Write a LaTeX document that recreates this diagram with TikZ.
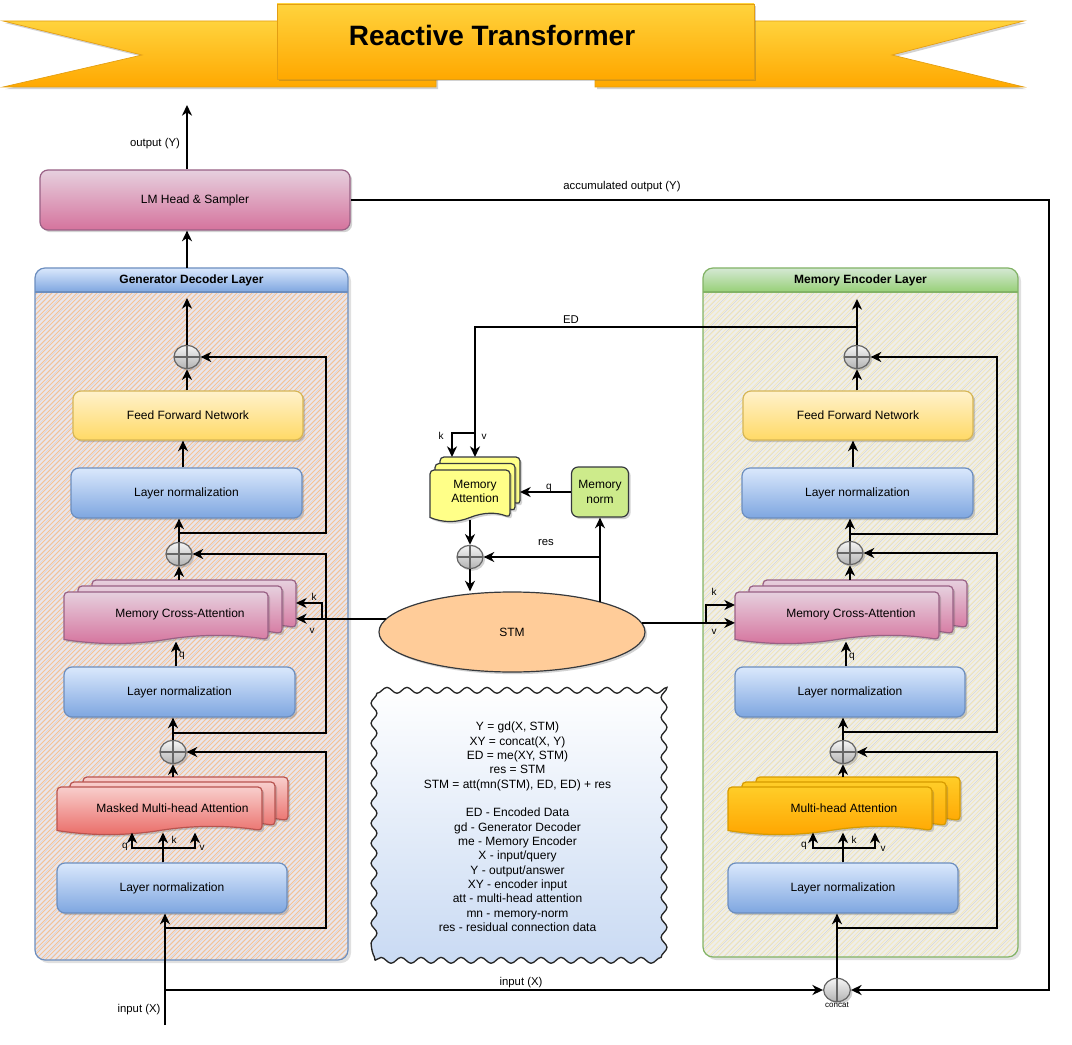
\documentclass[tikz,border=0pt]{standalone}
\usepackage{fontspec}
\setmainfont{Liberation Sans}
\usetikzlibrary{arrows.meta,shapes.geometric,shadows,decorations.pathmorphing,calc}

\definecolor{lnT}{HTML}{DAE8FC}\definecolor{lnB}{HTML}{7EA6E0}\definecolor{lnD}{HTML}{6C8EBF}
\definecolor{ffT}{HTML}{FFF2CC}\definecolor{ffB}{HTML}{FFD966}\definecolor{ffD}{HTML}{D6B656}
\definecolor{pkT}{HTML}{E6D0DE}\definecolor{pkB}{HTML}{D5739D}\definecolor{pkD}{HTML}{996185}
\definecolor{rdT}{HTML}{F8CECC}\definecolor{rdB}{HTML}{EA6B66}\definecolor{rdD}{HTML}{B85450}
\definecolor{orT}{HTML}{FFCD28}\definecolor{orB}{HTML}{FFA500}\definecolor{orD}{HTML}{D79B00}
\definecolor{maF}{HTML}{FFFF88}\definecolor{dkD}{HTML}{36393D}
\definecolor{mnF}{HTML}{CDEB8B}\definecolor{stF}{HTML}{FFCC99}
\definecolor{adT}{HTML}{F5F5F5}\definecolor{adB}{HTML}{B3B3B3}\definecolor{adD}{HTML}{666666}
\definecolor{gdBase}{HTML}{E9E6EC}\definecolor{gdHatch}{HTML}{F6C394}\definecolor{gdHatchB}{HTML}{D9D4DC}
\definecolor{meBase}{HTML}{EEEEEC}\definecolor{meHatch}{HTML}{F4E9BE}\definecolor{meHatchB}{HTML}{D6D6D6}
\definecolor{gdhT}{HTML}{DAE8FC}\definecolor{gdhB}{HTML}{7EA6E0}
\definecolor{mehT}{HTML}{D5E8D4}\definecolor{mehB}{HTML}{97D077}\definecolor{meD}{HTML}{82B366}
\definecolor{bnT}{HTML}{FFD33D}\definecolor{bnB}{HTML}{FFA800}\definecolor{bnD}{HTML}{E39E12}
\definecolor{lgB}{HTML}{C9DAF3}

\newcommand{\boxfont}{\fontsize{9}{10.75}\selectfont}

\newcommand{\drawdoc}[5]{%
  \pgfmathsetmacro{\mddX}{#1}\pgfmathsetmacro{\mddY}{#2}%
  \pgfmathsetmacro{\mddW}{#3}\pgfmathsetmacro{\mddH}{#4}%
  \pgfmathsetmacro{\mdyb}{\mddY+\mddH-4.5}%
  \pgfmathsetmacro{\mdyu}{\mdyb-5.4}\pgfmathsetmacro{\mdyl}{\mdyb+5.4}%
  \path[#5] (\mddX,\mdyb) [rounded corners=3pt] -- (\mddX,\mddY) -- (\mddX+\mddW,\mddY) -- (\mddX+\mddW,\mdyb) [sharp corners]
   .. controls (\mddX+5*\mddW/6,\mdyu) and (\mddX+2*\mddW/3,\mdyu) .. (\mddX+\mddW/2,\mdyb)
   .. controls (\mddX+\mddW/3,\mdyl) and (\mddX+\mddW/6,\mdyl) .. (\mddX,\mdyb) -- cycle;%
}
\newcommand{\multidoc}[9]{%
  \drawdoc{#2+2*(#6)}{#3+2*(#7)}{#4}{#5}{#8}%
  \drawdoc{#2+#6}{#3+#7}{#4}{#5}{#8}%
  \drawdoc{#2}{#3}{#4}{#5}{#8}%
  \pgfmathsetmacro{\mdL}{#2}%
  \pgfmathsetmacro{\mdR}{#2+#4+2*(#6)}%
  \pgfmathsetmacro{\mdT}{#3+2*(#7)}%
  \pgfmathsetmacro{\mdB}{#3+#5-2.5}%
  \pgfmathsetmacro{\mdWpt}{(\mdR-\mdL)*0.75}%
  \pgfmathsetmacro{\mdHpt}{(\mdB-\mdT)*0.75}%
  \node[inner sep=0pt, outer sep=0pt, minimum width=\mdWpt pt, minimum height=\mdHpt pt] (#1) at ({(\mdL+\mdR)/2},{(\mdT+\mdB)/2}) {};%
  \node[inner sep=0pt, align=center, font=\boxfont] (#1-text) at ({(\mdL+\mdR)/2},{(\mdT+\mdB)/2+3.5}) {#9};%
}

\tikzset{
  shad/.style={drop shadow={shadow xshift=1.6pt,shadow yshift=-1.6pt,opacity=0.25,fill=black!70}},
  arr/.style={line width=1.5pt, -{Stealth[length=8pt,width=7.5pt,inset=2.5pt]}},
  arrboth/.style={line width=1.5pt, {Stealth[length=8pt,width=7.5pt,inset=2.5pt]}-{Stealth[length=8pt,width=7.5pt,inset=2.5pt]}},
  sz/.style 2 args={minimum width=#1*0.75pt, minimum height=#2*0.75pt},
  rbox/.style={draw, rounded corners=6pt, line width=0.9pt, inner sep=0pt, font=\boxfont, align=center, shad},
  lnbox/.style={rbox, top color=lnT, bottom color=lnB, draw=lnD},
  ffnbox/.style={rbox, top color=ffT, bottom color=ffB, draw=ffD},
  lmbox/.style={rbox, top color=pkT, bottom color=pkB, draw=pkD},
  normbox/.style={rbox, rounded corners=5pt, fill=mnF, draw=dkD},
  mcadoc/.style={draw=pkD, line width=0.9pt, top color=pkT, bottom color=pkB, shad},
  mhadoc/.style={draw=rdD, line width=0.9pt, top color=rdT, bottom color=rdB, shad},
  mhadoctwo/.style={draw=orD, line width=0.9pt, top color=orT, bottom color=orB, shad},
  madoc/.style={draw=dkD, line width=0.9pt, fill=maF, shad},
  addc/.style={ellipse, draw=adD, line width=0.9pt, top color=adT, bottom color=adB,
     minimum width=19.5pt, minimum height=17.5pt, inner sep=0pt, shad,
     path picture={\draw[adD, line width=0.9pt] (path picture bounding box.north) -- (path picture bounding box.south)
        (path picture bounding box.west) -- (path picture bounding box.east);}},
  concatc/.style={ellipse, draw=adD, line width=0.9pt, top color=adT, bottom color=adB,
     minimum width=20pt, minimum height=17.5pt, inner sep=0pt, shad,
     path picture={\draw[adD, line width=0.9pt] (path picture bounding box.north) -- (path picture bounding box.south);}},
  stmnode/.style={ellipse, draw=dkD, line width=0.9pt, fill=stF, minimum width=199.5pt, minimum height=60pt, inner sep=0pt, font=\boxfont, shad},
  legendbox/.style={draw=black!85, line width=1pt, top color=white, bottom color=lgB,
     decorate, decoration={snake, amplitude=2.2pt, segment length=15pt},
     minimum width=214pt, minimum height=200pt, inner sep=0pt, align=center, font=\boxfont},
  lbl/.style={font=\fontsize{8.5}{10}\selectfont, inner sep=1pt},
  qkv/.style={font=\fontsize{7.5}{9}\selectfont, inner sep=0.5pt},
  banner/.style={top color=bnT, bottom color=bnB, draw=bnD, line width=0.5pt, shad},
}

\begin{document}
\begin{tikzpicture}[x=0.75pt,y=-0.75pt]
\useasboundingbox (0,0) rectangle (1072,1045);

% ---------------- title banner ----------------
\shade[banner] (3,21) -- (436,21) -- (436,87) -- (3,87) -- (142,55) -- cycle;
\shade[banner] (1024,21) -- (595,21) -- (595,87) -- (1024,87) -- (892,55) -- cycle;
\shade[banner] (277,4) rectangle (754,79);
\node[font=\bfseries\fontsize{21}{25}\selectfont] (title) at (492,35) {Reactive Transformer};

% ---------------- Generator Decoder container ----------------
\fill[black, opacity=0.12, rounded corners=7.5pt] (38,271) rectangle (351,963);
\begin{scope}
  \clip[rounded corners=7.5pt] (35,268) rectangle (348,960);
  \fill[gdBase] (35,268) rectangle (348,960);
  \foreach \c in {302,309,...,1315} {\draw[gdHatchB, line width=0.5pt] (\c-960,960) -- (\c-268,268);}
  \foreach \c in {300,305,...,1315} {\draw[gdHatch, line width=0.55pt] (\c-960,960) -- (\c-268,268);}
  \shade[top color=gdhT, bottom color=gdhB] (35,268) rectangle (348,292);
\end{scope}
\draw[lnD, line width=0.9pt, rounded corners=7.5pt] (35,268) rectangle (348,960);
\draw[lnD, line width=0.9pt] (35,292) -- (348,292);
\node[font=\bfseries\boxfont] (gdtitle) at (191.5,280) {Generator Decoder Layer};

% ---------------- Memory Encoder container ----------------
\fill[black, opacity=0.12, rounded corners=7.5pt] (706,271) rectangle (1021,960);
\begin{scope}
  \clip[rounded corners=7.5pt] (703,268) rectangle (1018,957);
  \fill[meBase] (703,268) rectangle (1018,957);
  \foreach \c in {967,974,...,1980} {\draw[meHatchB, line width=0.5pt] (\c-957,957) -- (\c-268,268);}
  \foreach \c in {965,970,...,1980} {\draw[meHatch, line width=0.6pt] (\c-957,957) -- (\c-268,268);}
  \shade[top color=mehT, bottom color=mehB] (703,268) rectangle (1018,292);
\end{scope}
\draw[meD, line width=0.9pt, rounded corners=7.5pt] (703,268) rectangle (1018,957);
\draw[meD, line width=0.9pt] (703,292) -- (1018,292);
\node[font=\bfseries\boxfont] (metitle) at (860.5,280) {Memory Encoder Layer};

% ---------------- left column nodes ----------------
\node[lmbox, sz={310}{60}] (lmhead) at (195,200) {LM Head \& Sampler};
\node[ffnbox, sz={230}{49}] (ffn1) at (188,415.5) {Feed Forward Network};
\node[lnbox, sz={231}{50}] (ln1) at (186.5,493) {Layer normalization};
\node[lnbox, sz={231}{50}] (ln2) at (179.5,692) {Layer normalization};
\node[lnbox, sz={230}{50}] (ln3) at (172,888) {Layer normalization};
\node[addc] (add1) at (187,357) {};
\node[addc] (add2) at (179,554) {};
\node[addc] (add3) at (173,752) {};
\multidoc{mca1}{64}{592}{204}{52}{14}{-6}{mcadoc}{Memory Cross-Attention}
\multidoc{mha1}{57}{787}{205}{48}{13}{-5}{mhadoc}{Masked Multi-head Attention}

% ---------------- right column nodes ----------------
\node[ffnbox, sz={230}{49}] (ffn2) at (858,415.5) {Feed Forward Network};
\node[lnbox, sz={231}{50}] (ln4) at (857.5,493) {Layer normalization};
\node[lnbox, sz={230}{50}] (ln5) at (850,692) {Layer normalization};
\node[lnbox, sz={230}{50}] (ln6) at (843,888) {Layer normalization};
\node[addc] (add4) at (857,357) {};
\node[addc] (add5) at (850,553) {};
\node[addc] (add6) at (843,752) {};
\multidoc{mca2}{735}{592}{204}{52}{14}{-6}{mcadoc}{Memory Cross-Attention}
\multidoc{mha2}{728}{787}{204}{48}{14}{-5}{mhadoctwo}{Multi-head Attention}

% ---------------- centre nodes ----------------
\multidoc{memattn}{430}{470}{80}{52}{5}{-6.5}{madoc}{Memory\\Attention}
\node[normbox, sz={57}{50}] (memnorm) at (600,492) {Memory\\norm};
\node[addc] (add7) at (470,557) {};
\node[stmnode] (stm) at (512,632) {STM};
\node[legendbox] (leg) at (517.5,827) {Y = gd(X, STM)\\XY = concat(X, Y)\\ED = me(XY, STM)\\res = STM\\STM = att(mn(STM), ED, ED) + res\\[10.75pt]ED - Encoded Data\\gd - Generator Decoder\\me - Memory Encoder\\X - input/query\\Y - output/answer\\XY - encoder input\\att - multi-head attention\\mn - memory-norm\\res - residual connection data};
\node[concatc] (concat) at (837,990) {};
\node[font=\fontsize{6}{7}\selectfont, inner sep=0pt] (concatlbl) at (837,1005) {concat};

% ---------------- coordinates ----------------
\coordinate (out) at (187,105);
\coordinate (gdtopc) at (187,268);
\coordinate (gdtop) at (187,298);
\coordinate (x183) at (183,0);
\coordinate (x176) at (176,0);
\coordinate (x163) at (163,0);
\coordinate (xr1) at (326,0);
\coordinate (b1) at (179,533);
\coordinate (b2) at (173,733);
\coordinate (b3) at (165,928);
\coordinate (b4) at (165,990);
\coordinate (inX) at (165,1025);
\coordinate (q1) at (132,848);
\coordinate (v1) at (195,848);
\coordinate (kb1) at (322,0);
\coordinate (kL) at (0,603);
\coordinate (metop) at (857,299);
\coordinate (edb) at (857,327);
\coordinate (x853) at (853,0);
\coordinate (x846) at (846,0);
\coordinate (xr2) at (997,0);
\coordinate (b5) at (850,534);
\coordinate (b6) at (843,732);
\coordinate (b7) at (837,928);
\coordinate (q2) at (813,848);
\coordinate (v2) at (875,848);
\coordinate (kb2) at (706,0);
\coordinate (kR) at (0,605);
\coordinate (kb) at (475,433);
\coordinate (xk) at (452,0);
\coordinate (accc) at (1049,990);

% ---------------- left connectors ----------------
\draw[arr] (lmhead.north -| out) -- (out);
\draw[arr] (gdtopc) -- (lmhead.south -| gdtopc);
\draw[arr] (add1.north) -- (gdtop);
\draw[arr] (ffn1.north -| add1) -- (add1.south);
\draw[arr] (ln1.north -| x183) -- (ffn1.south -| x183);
\draw[arr] (add2.north) -- (ln1.south -| add2);
\draw[arr] (b1) -| (add1 -| xr1) -- (add1.east);
\draw[arr] (mca1.north -| add2) -- (add2.south);
\draw[arr] (ln2.north -| x176) -- (mca1.south -| x176);
\draw[arr] (add3.north) -- (ln2.south -| add3);
\draw[arr] (b2) -| (add2 -| xr1) -- (add2.east);
\draw[arr] (mha1.north -| add3) -- (add3.south);
\draw[arr] (ln3.north -| x163) -- (mha1.south -| x163);
\draw[arrboth] (mha1.south -| q1) -- (q1) -- (v1) -- (mha1.south -| v1);
\draw[arr] (inX) -- (ln3.south -| inX);
\draw[arr] (b3) -| (add3 -| xr1) -- (add3.east);
\draw[arr] (b4) -- (concat.west);

% STM to left cross-attention
\draw[arr] (stm.174) -- (stm.174 -| mca1.east);
\draw[arr] (stm.174 -| kb1) |- (mca1.east |- kL);

% ---------------- right connectors ----------------
\draw[arr] (add4.north) -- (metop);
\draw[arr] (ffn2.north -| add4) -- (add4.south);
\draw[arr] (ln4.north -| x853) -- (ffn2.south -| x853);
\draw[arr] (add5.north) -- (ln4.south -| add5);
\draw[arr] (b5) -| (add4 -| xr2) -- (add4.east);
\draw[arr] (mca2.north -| add5) -- (add5.south);
\draw[arr] (ln5.north -| x846) -- (mca2.south -| x846);
\draw[arr] (add6.north) -- (ln5.south -| add6);
\draw[arr] (b6) -| (add5 -| xr2) -- (add5.east);
\draw[arr] (mha2.north -| add6) -- (add6.south);
\draw[arr] (ln6.north -| add6) -- (mha2.south -| add6);
\draw[arrboth] (mha2.south -| q2) -- (q2) -- (v2) -- (mha2.south -| v2);
\draw[arr] (concat.north) -- (ln6.south -| concat);
\draw[arr] (b7) -| (add6 -| xr2) -- (add6.east);
\draw[arr] (lmhead.east) -| (accc) -- (concat.east);

% STM to right cross-attention
\draw[arr] (stm.4) -- (stm.4 -| mca2.west);
\draw[arr] (stm.4 -| kb2) |- (mca2.west |- kR);

% ---------------- centre connectors ----------------
\draw[arr] (edb) -| (memattn.north);
\draw[arr] (kb) -| (memattn.north -| xk);
\draw[arr] (memnorm.west) -- (memnorm.west -| memattn.east);
\draw[arr] (add7.north |- memattn.south) -- (add7.north);
\draw[arr] (add7.south) -- (add7.south |- stm.north);
\draw[arr] (stm.19 -| memnorm) -- (memnorm.south);
\draw[arr] (memnorm |- add7) -- (add7.east);

% ---------------- labels ----------------
\node[lbl] (lout) at (155,144) {output (Y)};
\node[lbl] (lacc) at (622,187) {accumulated output (Y)};
\node[lbl] (led) at (571,320) {ED};
\node[lbl] (lres) at (546,543) {res};
\node[lbl] (lin1) at (521,983) {input (X)};
\node[lbl] (lin2) at (139,1010) {input (X)};
\node[qkv] (lq1) at (125,847) {q};
\node[qkv] (lk1) at (174,840) {k};
\node[qkv] (lv1) at (202,848) {v};
\node[qkv] (lq2) at (182,656) {q};
\node[qkv] (lk2) at (314,597) {k};
\node[qkv] (lv2) at (312,631) {v};
\node[qkv] (lk3) at (441,436) {k};
\node[qkv] (lv3) at (484,437) {v};
\node[qkv] (lq3) at (549,488) {q};
\node[qkv] (lk4) at (714,592) {k};
\node[qkv] (lv4) at (714,632) {v};
\node[qkv] (lq4) at (852,657) {q};
\node[qkv] (lq5) at (804,846) {q};
\node[qkv] (lk5) at (854,840) {k};
\node[qkv] (lv5) at (883,849) {v};
\end{tikzpicture}
\end{document}
